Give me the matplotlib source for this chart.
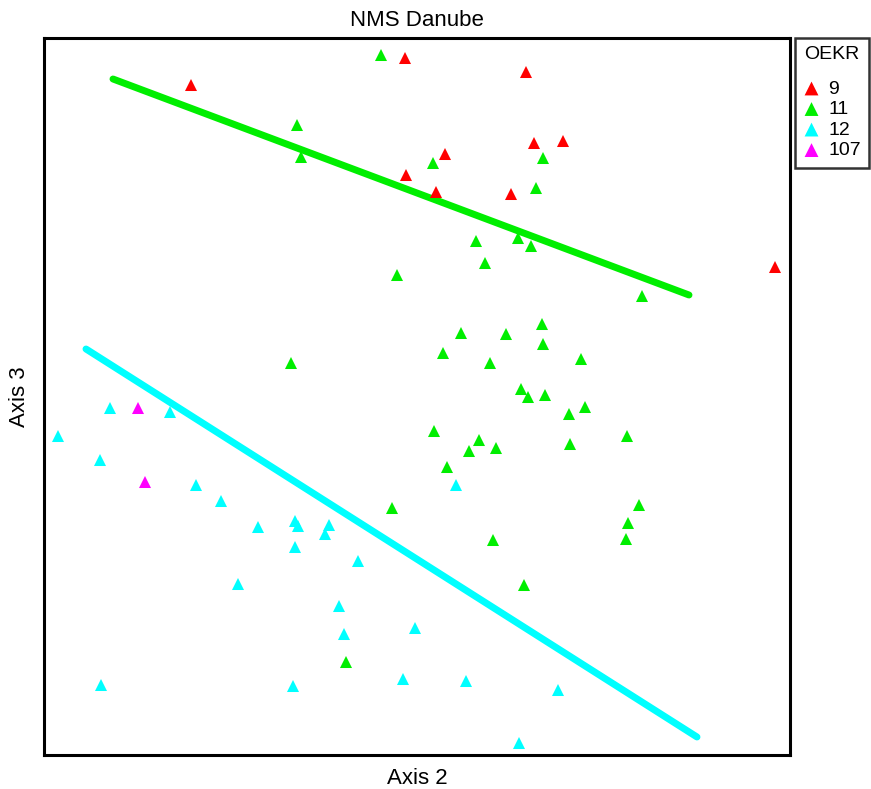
import numpy as np
import matplotlib
matplotlib.use("Agg")
import matplotlib.pyplot as plt

plt.rcParams['font.family'] = ['Liberation Sans', 'DejaVu Sans']

# ordination scores (Axis 2, Axis 3)
oekr9_x = [191, 405, 526, 406, 445, 534, 563, 436, 511, 775]
oekr9_y = [704, 731, 717, 614, 635, 646, 648, 597, 595, 522]

oekr11_x = [381, 297, 301, 397, 291, 433, 543, 536, 476, 518, 531, 485, 642,
            542, 461, 506, 543, 443, 490, 581, 521, 528, 545, 569, 585, 434,
            479, 469, 496, 570, 627, 447, 639, 628, 626, 493, 524, 392, 346]
oekr11_y = [734, 664, 632, 514, 426, 626, 631, 601, 548, 551, 543, 526, 493,
            465, 456, 455, 445, 436, 426, 430, 400, 392, 394, 375, 382, 358,
            349, 338, 341, 345, 353, 322, 284, 266, 250, 249, 204, 281, 127]

oekr12_x = [110, 170, 58, 100, 196, 221, 258, 295, 298, 329, 325, 295, 358,
            238, 339, 344, 415, 101, 293, 403, 466, 558, 519, 456]
oekr12_y = [381, 377, 353, 329, 304, 288, 262, 268, 263, 264, 255, 242, 228,
            205, 183, 155, 161, 104, 103, 110, 108, 99, 46, 304]

oekr107_x = [138, 145]
oekr107_y = [381, 307]

groups = ['9', '11', '12', '107']
colors = ['#ff0000', '#00ee00', '#00ffff', '#ff00ff']

# joint plot vectors (start, end)
green_line_x = [113, 689]
green_line_y = [710, 494]
cyan_line_x = [86, 697]
cyan_line_y = [440, 52]

fig = plt.figure(figsize=(8.71, 7.89), dpi=100)
ax = fig.add_axes([44 / 871, 1 - 755 / 789, (790 - 44) / 871, (755 - 38) / 789])

ax.plot(green_line_x, green_line_y, color='#00ee00', lw=5, solid_capstyle='round', zorder=1)
ax.plot(cyan_line_x, cyan_line_y, color='#00ffff', lw=5, solid_capstyle='round', zorder=1)

data = [(oekr9_x, oekr9_y), (oekr11_x, oekr11_y), (oekr12_x, oekr12_y), (oekr107_x, oekr107_y)]
for (xs, ys), g, c in zip(data, groups, colors):
    ax.scatter(xs, ys, marker='^', s=75, color=c, edgecolors='none', label=g, zorder=2)

ax.set_xlim(44, 790)
ax.set_ylim(34, 751)
ax.set_xticks([])
ax.set_yticks([])
for sp in ax.spines.values():
    sp.set_linewidth(2.2)

ax.set_title('NMS Danube', fontsize=16, pad=9)
ax.set_xlabel('Axis 2', fontsize=16, labelpad=9)
ax.set_ylabel('Axis 3', fontsize=16, labelpad=10)

leg = ax.legend(title='OEKR', loc='upper right',
                bbox_to_anchor=(869 / 871, 1 - 38 / 789), bbox_transform=fig.transFigure,
                fontsize=14, title_fontsize=14, frameon=True, fancybox=False,
                handletextpad=0.45, borderpad=0.3, labelspacing=0.15,
                handlelength=0.8, borderaxespad=0, markerscale=1.15)
leg.get_frame().set_edgecolor('black')
leg.get_frame().set_linewidth(1.8)
leg._legend_box.align = 'left'
leg._legend_box.sep = 12
leg._legend_box.pad = 6

fig.savefig('out.png', dpi=100)
